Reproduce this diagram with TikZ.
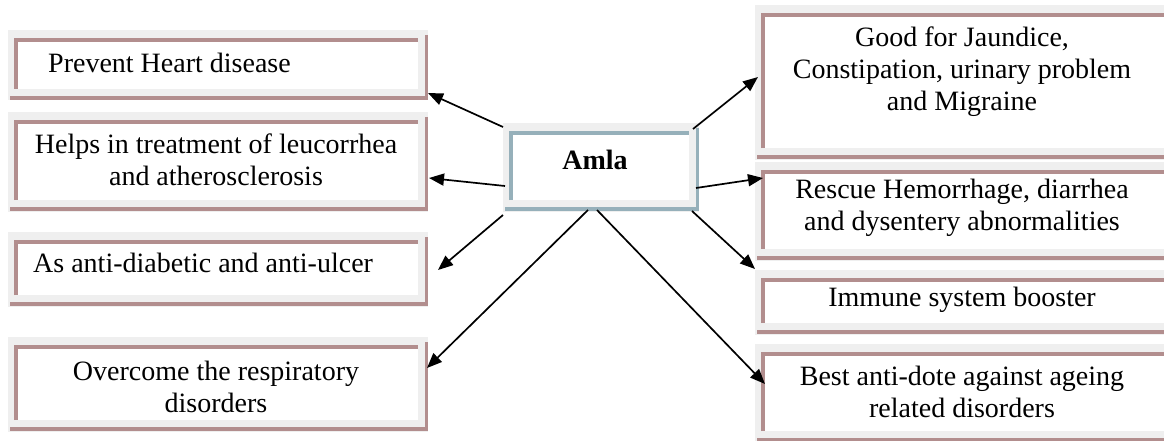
\documentclass[tikz,border=0pt]{standalone}
\usepackage{fontspec}
\setmainfont{Liberation Serif}
\usetikzlibrary{arrows.meta}
\definecolor{boxgray}{RGB}{239,239,239}
\definecolor{mauve}{RGB}{178,142,142}
\definecolor{steel}{RGB}{150,176,186}
\newcommand\wbox[5]{%
  \fill[boxgray] (#1,#2) rectangle (#3,#4+2.5);
  \fill[white] (#1+8,#2+10) rectangle (#3-10,#4-9);
  \draw[#5, line width=3.5pt] (#1+8,#4-9) -- (#1+8,#2+10) -- (#3-10,#2+10);
  \draw[#5, line width=3pt] (#3-2,#2+5) -- (#3-2,#4+2);
  \draw[#5, line width=4pt] (#1+2,#4) -- (#3-1,#4);
}
\tikzset{
  lbl/.style={font=\fontsize{28}{32}\selectfont, align=center, inner sep=0pt, text=black},
  conn/.style={line width=1.7pt, -{Triangle[length=15pt,width=12pt]}}
}
\begin{document}
\begin{tikzpicture}[x=1pt,y=-1pt]
\useasboundingbox (0,0) rectangle (1164,441);
\clip (0,0) rectangle (1164,441);
% left boxes
\wbox{8}{30}{428}{98}{mauve}
\wbox{8}{112}{428}{209}{mauve}
\wbox{8}{232}{428}{304}{mauve}
\wbox{8}{337}{428}{429}{mauve}
% right boxes
\wbox{755}{5}{1190}{157}{mauve}
\wbox{755}{162}{1190}{258}{mauve}
\wbox{755}{270}{1190}{332}{mauve}
\wbox{755}{344}{1190}{440}{mauve}
% centre
\wbox{503}{123}{699}{209}{steel}

\node[lbl, anchor=west] (t1) at (48,63) {Prevent Heart disease};
\node[lbl] (t2) at (216,160) {Helps in treatment of leucorrhea\\and atherosclerosis};
\node[lbl, anchor=west] (t3) at (33,263) {As anti-diabetic and anti-ulcer};
\node[lbl] (t4) at (216,387) {Overcome the respiratory\\disorders};
\node[lbl] (t5) at (962,72) {Good for Jaundice,\\Constipation, urinary problem\\and Migraine};
\node[lbl] (t6) at (962,208) {Rescue Hemorrhage, diarrhea\\and dysentery abnormalities};
\node[lbl] (t7) at (962,300) {Immune system booster};
\node[lbl] (t8) at (962,392) {Best anti-dote against ageing\\related disorders};
\node[lbl, font=\fontsize{28}{32}\selectfont\bfseries] (amla) at (595,160) {Amla};

\coordinate (s1) at (503,127); \coordinate (e1) at (428,93);
\coordinate (s2) at (505,186); \coordinate (e2) at (429,178);
\coordinate (s3) at (503,215); \coordinate (e3) at (438,270);
\coordinate (s4) at (588,210); \coordinate (e4) at (427,368);
\coordinate (s5) at (693,129); \coordinate (e5) at (758,77);
\coordinate (s6) at (696,188); \coordinate (e6) at (763,178);
\coordinate (s7) at (692,211); \coordinate (e7) at (755,269);
\coordinate (s8) at (597,210); \coordinate (e8) at (765,384);
\foreach \i in {1,...,8} { \draw[conn] (s\i) -- (e\i); }
\end{tikzpicture}
\end{document}
